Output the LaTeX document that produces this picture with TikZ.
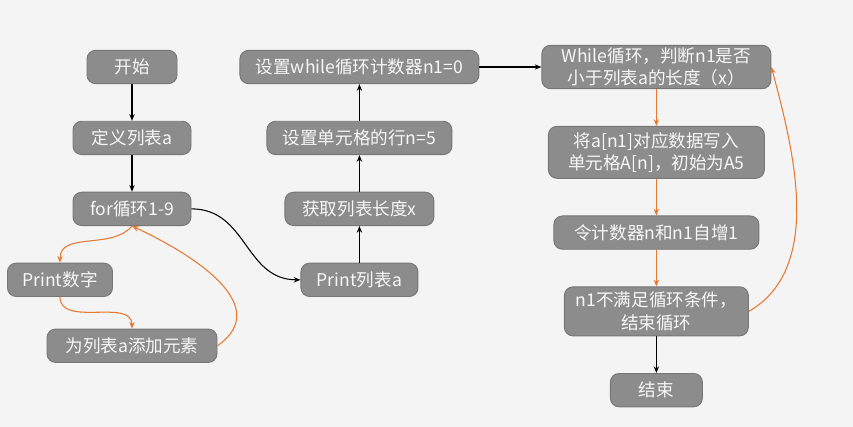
\documentclass[tikz,border=0pt]{standalone}
\usepackage{fontspec}
\setmainfont{Noto Sans CJK SC}
\usepackage{tikz}
\usepackage{xcolor}
\usetikzlibrary{arrows.meta, positioning}

\definecolor{boxgray}{HTML}{8C8C8C}
\definecolor{boxline}{HTML}{767676}
\definecolor{boxtext}{HTML}{F7F7F7}
\definecolor{loopor}{HTML}{E8782F}
\definecolor{pagebg}{HTML}{F4F4F4}

\begin{document}
\begin{tikzpicture}[
        node distance=1.1cm and 1.86cm,
        box/.style={rectangle, draw=boxline, line width=0.8pt, rounded corners=2.6mm, fill=boxgray, text=boxtext, text centered, align=center, minimum height=1cm, inner sep=2pt, font=\fontsize{15}{19}\selectfont},
        arrow/.style={-{Stealth[length=2mm, width=1.6mm]}, line width=0.9pt, black},
        oarrow/.style={-{Stealth[length=2mm, width=1.6mm]}, line width=0.9pt, loopor}
    ]
        \fill[pagebg] (0,0) rectangle (25.59,-12.81);
        \useasboundingbox (0,0) rectangle (25.59,-12.81);

        % left column
        \node[box, minimum width=2.7cm] (start) at (3.96,-2.01) {开始};
        \node[box, minimum width=3.54cm, below=of start] (deflist) {定义列表a};
        \node[box, minimum width=3.54cm, below=of deflist] (forloop) {for循环1-9};
        \node[box, minimum width=3.15cm, below=1.1cm of forloop, xshift=-2.16cm] (printnum) {Print数字};
        \node[box, minimum width=5.1cm, below=0.95cm of printnum, xshift=2.16cm] (addelem) {为列表a添加元素};

        % middle column
        \node[box, minimum width=7.17cm, right=of start] (setwhile) {设置while循环计数器n1=0};
        \node[box, minimum width=5.55cm, below=of setwhile] (setrow) {设置单元格的行n=5};
        \node[box, minimum width=4.47cm, below=of setrow] (getlen) {获取列表长度x};
        \node[box, minimum width=3.51cm, below=of getlen] (printlist) {Print列表a};

        % right column
        \node[box, minimum width=6.87cm, minimum height=1.29cm, right=of setwhile] (whileloop) {While循环，判断n1是否\\小于列表a的长度（x）};
        \node[box, minimum width=6.48cm, minimum height=1.56cm, below=of whileloop] (writecell) {将a[n1]对应数据写入\\单元格A[n]，初始为A5};
        \node[box, minimum width=6.15cm, below=of writecell] (incr) {令计数器n和n1自增1};
        \node[box, minimum width=5.52cm, minimum height=1.47cm, below=of incr] (stoploop) {n1不满足循环条件，\\结束循环};
        \node[box, minimum width=2.76cm, below=of stoploop] (finish) {结束};

        \draw[arrow] (start) -- (deflist);
        \draw[arrow] (deflist) -- (forloop);
        \draw[arrow] (forloop.east) to[out=0, in=180, looseness=1.1] (printlist.west);
        \draw[oarrow] (forloop.south) to[out=-130, in=90] (printnum.north);
        \draw[oarrow] (printnum.south) to[out=-90, in=90] (addelem.north);
        \draw[oarrow] (addelem.east) to[out=35, in=-25, looseness=1.2] (forloop.south);
        \draw[arrow] (printlist) -- (getlen);
        \draw[arrow] (getlen) -- (setrow);
        \draw[arrow] (setrow) -- (setwhile);
        \draw[arrow] (setwhile) -- (whileloop);
        \draw[oarrow] (whileloop) -- (writecell);
        \draw[oarrow] (writecell) -- (incr);
        \draw[oarrow] (incr) -- (stoploop);
        \draw[arrow] (stoploop) -- (finish);
        \draw[oarrow] (stoploop.east) to[out=30, in=-75, looseness=0.9] (whileloop.east);
    \end{tikzpicture}
\end{document}
